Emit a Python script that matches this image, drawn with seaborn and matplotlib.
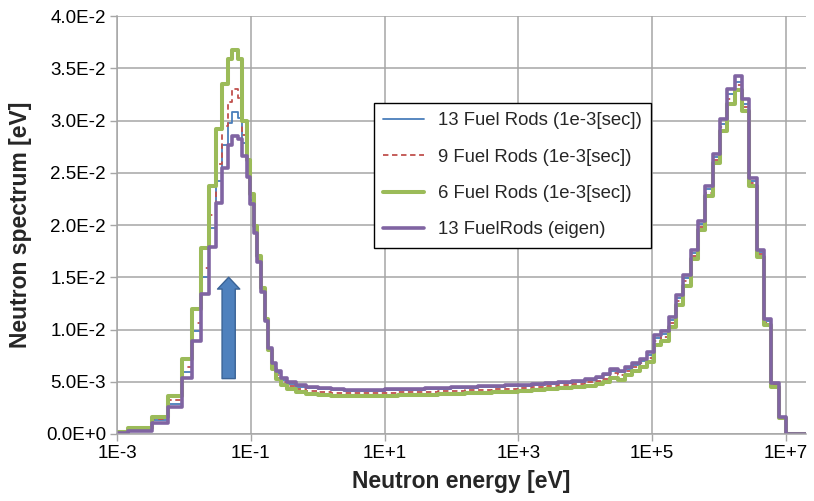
import numpy as np
import pandas as pd
import matplotlib
matplotlib.use("Agg")
import matplotlib.pyplot as plt
import seaborn as sns
from matplotlib.ticker import FixedLocator, NullLocator, FixedFormatter

# ---------------- data ----------------
# group boundaries, log10(energy / eV)
edge_log10 = [
    -3.000, -2.835, -2.475, -2.235, -2.025, -1.876, -1.745, -1.621, -1.520, -1.430,
    -1.340, -1.276, -1.193, -1.130, -1.055, -1.013, -0.957, -0.906, -0.852, -0.792,
    -0.736, -0.676, -0.616, -0.541, -0.451, -0.331, -0.181,
    0.0, 0.2, 0.4, 0.6, 0.8, 1.0, 1.2, 1.4, 1.6, 1.8, 2.0, 2.2, 2.4, 2.6, 2.8,
    3.0, 3.2, 3.4, 3.6, 3.8, 4.0,
    4.156, 4.266, 4.375, 4.484, 4.594, 4.703, 4.812, 4.922, 5.031, 5.140, 5.250,
    5.359, 5.469, 5.578, 5.687, 5.797, 5.906, 6.016, 6.125, 6.234, 6.344, 6.453,
    6.562, 6.672, 6.781, 6.891, 7.000,
    7.301,
]

rods13 = [
    0.0001, 0.0004, 0.0013, 0.0029, 0.0059, 0.0099, 0.0150, 0.0197, 0.0242, 0.0277,
    0.0298, 0.0308, 0.0302, 0.0278, 0.0252, 0.0224, 0.0194, 0.0166, 0.0137, 0.0108,
    0.0081, 0.0066, 0.0058, 0.0052, 0.0048, 0.0045, 0.0044,
    0.0043, 0.0042, 0.0041, 0.0041, 0.0041, 0.0042, 0.0042, 0.0042, 0.0043, 0.0043,
    0.0044, 0.0044, 0.0045, 0.0045, 0.0046, 0.0046, 0.0047, 0.0048, 0.0049, 0.0050,
    0.0052,
    0.0054, 0.0056, 0.0060, 0.0059, 0.0062, 0.0066, 0.0070, 0.0076, 0.0092, 0.0096,
    0.0109, 0.0130, 0.0149, 0.0173, 0.0201, 0.0234, 0.0265, 0.0297, 0.0325, 0.0337,
    0.0316, 0.0242, 0.0174, 0.0108, 0.0048, 0.0016,
    0.0,
]

rods9 = [
    0.0002, 0.0005, 0.0014, 0.0033, 0.0064, 0.0106, 0.0159, 0.0210, 0.0258, 0.0295,
    0.0318, 0.0330, 0.0322, 0.0286, 0.0255, 0.0226, 0.0195, 0.0167, 0.0137, 0.0108,
    0.0080, 0.0064, 0.0056, 0.0050, 0.0046, 0.0043, 0.0041,
    0.0040, 0.0039, 0.0039, 0.0039, 0.0039, 0.0039, 0.0040, 0.0040, 0.0040, 0.0041,
    0.0041, 0.0042, 0.0042, 0.0043, 0.0043, 0.0044, 0.0045, 0.0046, 0.0047, 0.0048,
    0.0050,
    0.0051, 0.0053, 0.0058, 0.0056, 0.0060, 0.0064, 0.0068, 0.0073, 0.0089, 0.0093,
    0.0106, 0.0127, 0.0146, 0.0170, 0.0198, 0.0231, 0.0262, 0.0294, 0.0321, 0.0334,
    0.0313, 0.0240, 0.0172, 0.0106, 0.0047, 0.0015,
    0.0,
]

rods6 = [
    0.0002, 0.0006, 0.0016, 0.0036, 0.0072, 0.0120, 0.0178, 0.0237, 0.0292, 0.0335,
    0.0359, 0.0367, 0.0359, 0.0300, 0.0262, 0.0230, 0.0199, 0.0170, 0.0140, 0.0110,
    0.0080, 0.0062, 0.0053, 0.0047, 0.0043, 0.0040, 0.0038,
    0.0037, 0.0036, 0.0036, 0.0036, 0.0036, 0.0036, 0.0037, 0.0037, 0.0037, 0.0038,
    0.0038, 0.0039, 0.0039, 0.0040, 0.0040, 0.0041, 0.0042, 0.0043, 0.0044, 0.0045,
    0.0046,
    0.0048, 0.0050, 0.0054, 0.0052, 0.0056, 0.0060, 0.0064, 0.0069, 0.0085, 0.0089,
    0.0102, 0.0123, 0.0142, 0.0167, 0.0195, 0.0228, 0.0259, 0.0290, 0.0316, 0.0329,
    0.0309, 0.0237, 0.0169, 0.0104, 0.0045, 0.0015,
    0.0,
]

eigen13 = [
    0.0001, 0.0003, 0.0011, 0.0026, 0.0054, 0.0089, 0.0134, 0.0179, 0.0221, 0.0255,
    0.0277, 0.0285, 0.0282, 0.0266, 0.0246, 0.0220, 0.0192, 0.0165, 0.0136, 0.0108,
    0.0082, 0.0068, 0.0060, 0.0054, 0.0050, 0.0047, 0.0045,
    0.0044, 0.0043, 0.0042, 0.0042, 0.0042, 0.0043, 0.0043, 0.0043, 0.0044, 0.0044,
    0.0045, 0.0045, 0.0046, 0.0046, 0.0047, 0.0047, 0.0048, 0.0049, 0.0050, 0.0051,
    0.0053,
    0.0055, 0.0057, 0.0062, 0.0060, 0.0064, 0.0068, 0.0072, 0.0078, 0.0095, 0.0099,
    0.0112, 0.0133, 0.0152, 0.0176, 0.0204, 0.0237, 0.0268, 0.0301, 0.0330, 0.0343,
    0.0321, 0.0245, 0.0176, 0.0110, 0.0049, 0.0016,
    0.0,
]

series_names = [
    "13 Fuel Rods (1e-3[sec])",
    "9 Fuel Rods (1e-3[sec])",
    "6 Fuel Rods (1e-3[sec])",
    "13 FuelRods (eigen)",
]

x_tick_values = [1e-3, 1e-1, 1e1, 1e3, 1e5, 1e7]
x_tick_labels = ["1E-3", "1E-1", "1E+1", "1E+3", "1E+5", "1E+7"]
y_tick_values = [0.0, 0.005, 0.010, 0.015, 0.020, 0.025, 0.030, 0.035, 0.040]
y_tick_labels = ["0.0E+0", "5.0E-3", "1.0E-2", "1.5E-2", "2.0E-2",
                 "2.5E-2", "3.0E-2", "3.5E-2", "4.0E-2"]

# annotation arrow (energy, from, to)
arrow_energy = 0.0467
arrow_from = 0.0053
arrow_to = 0.0150

# ---------------- style ----------------
sns.set_theme(style="white")
plt.rcParams["font.family"] = ["Liberation Sans", "DejaVu Sans"]

fig = plt.figure(figsize=(8.14, 5.01), dpi=100)
ax = fig.add_axes([117 / 814, 67 / 501, 689 / 814, 418 / 501])

energies = 10 ** np.array(edge_log10)
styles = [
    (rods13, "#4a7ebb", 1.3, "-"),
    (rods9, "#c0504d", 1.3, (0, (3, 2))),
    (rods6, "#9bbb59", 2.9, "-"),
    (eigen13, "#8064a2", 2.6, "-"),
]

for name, (vals, color, lw, ls) in zip(series_names, styles):
    df = pd.DataFrame({"E": energies, "S": list(vals) + [vals[-1]]})
    sns.lineplot(data=df, x="E", y="S", ax=ax, drawstyle="steps-post",
                 color=color, lw=lw, label=name, sort=False, estimator=None)
    ax.lines[-1].set_linestyle(ls)

ax.set_xscale("log")
ax.set_xlim(1e-3, 2e7)
ax.set_ylim(0, 0.04)
ax.xaxis.set_major_locator(FixedLocator(x_tick_values))
ax.xaxis.set_major_formatter(FixedFormatter(x_tick_labels))
ax.xaxis.set_minor_locator(NullLocator())
ax.yaxis.set_major_locator(FixedLocator(y_tick_values))
ax.yaxis.set_major_formatter(FixedFormatter(y_tick_labels))

grid_col = "#a6a6a6"
ax.grid(True, which="major", color=grid_col, lw=1.1)
ax.set_axisbelow(True)
for s in ["top", "right"]:
    ax.spines[s].set_visible(False)
for s in ["left", "bottom"]:
    ax.spines[s].set_color(grid_col)
    ax.spines[s].set_linewidth(1.1)
ax.tick_params(axis="both", which="major", direction="out", length=5, width=1,
               color=grid_col, labelsize=13.5, pad=3, bottom=True, left=True,
               labelcolor="black")

ax.set_xlabel("Neutron energy [eV]", fontsize=16.5, fontweight="bold", labelpad=6)
ax.set_ylabel("Neutron spectrum [eV]", fontsize=16.5, fontweight="bold", labelpad=10)

ax.annotate("", xy=(arrow_energy, arrow_to), xytext=(arrow_energy, arrow_from),
            arrowprops=dict(arrowstyle="simple,head_length=0.85,head_width=1.6,tail_width=0.95",
                            mutation_scale=10, fc="#4f81bd", ec="#3a6396", lw=1.0,
                            shrinkA=0, shrinkB=0))

leg = ax.legend(loc="upper left", bbox_to_anchor=(0.373, 0.792), frameon=True,
                fancybox=False, edgecolor="black", framealpha=1, fontsize=13.3,
                handlelength=2.2, labelspacing=1.05, borderpad=0.5,
                handletextpad=0.75, borderaxespad=0)
leg.get_frame().set_linewidth(1.0)

fig.savefig("out.png", dpi=100)
